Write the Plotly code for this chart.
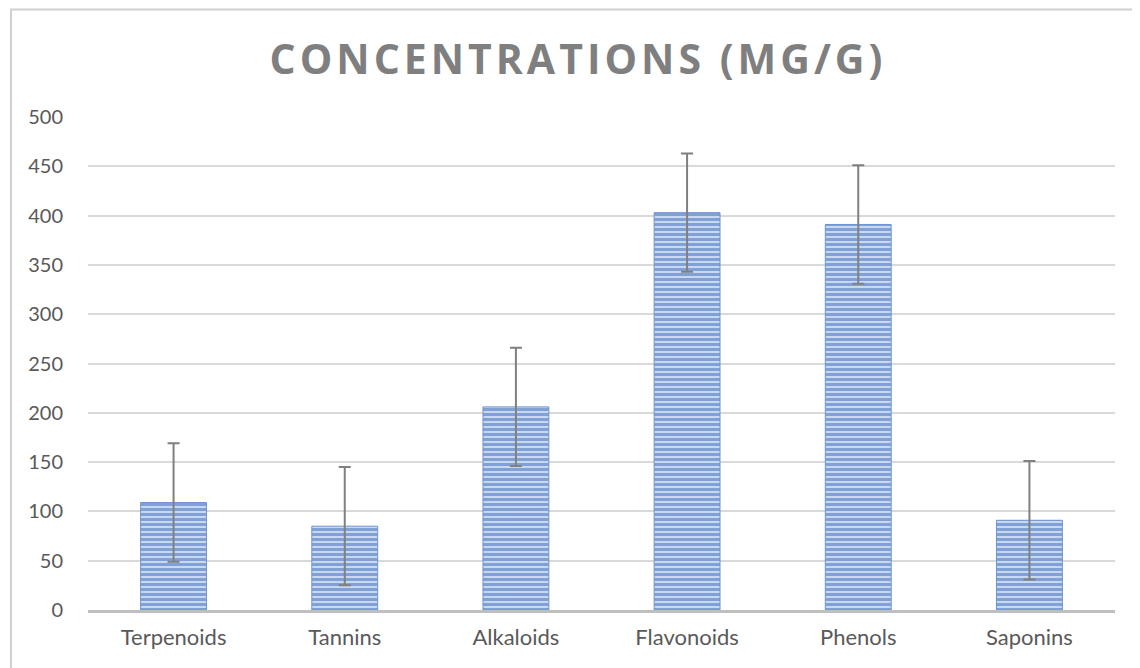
import plotly.graph_objects as go

categories = ["Terpenoids", "Tannins", "Alkaloids", "Flavonoids", "Phenols", "Saponins"]
values = [109, 85, 206, 403, 391, 91]
errors = [60, 60, 60, 60, 60, 60]
y_ticks = [0, 50, 100, 150, 200, 250, 300, 350, 400, 450, 500]

fig = go.Figure()
fig.add_trace(go.Bar(
    x=categories, y=values,
    width=0.385,
    marker=dict(
        color="#c2d3ef",
        line=dict(color="#6f94d0", width=1),
        pattern=dict(shape="-", fgcolor="#3a6abc", bgcolor="#c8d8f1", size=5, solidity=0.6),
    ),
    error_y=dict(type="data", array=errors, visible=True, color="#808080", thickness=2, width=6),
))

fig.update_layout(
    width=1140, height=668,
    margin=dict(l=80, r=33, t=109, b=66),
    paper_bgcolor="white", plot_bgcolor="white",
    showlegend=False,
    title=dict(text='<b><span style="letter-spacing:4px">CONCENTRATIONS (MG/G)</span></b>',
               x=0.5, xanchor="center", y=1 - 52 / 668, yanchor="middle",
               font=dict(family="Open Sans", size=41, color="#7f7f7f")),
    font=dict(family="Lato", color="#595959", size=20),
)
fig.update_yaxes(range=[0, 500], tickvals=y_ticks, showgrid=True, gridcolor="#d9d9d9", gridwidth=1.5,
                 zeroline=False, showline=False, ticks="", tickfont=dict(family="Lato", size=20, color="#595959"),
                 ticklabelstandoff=24)
fig.update_xaxes(showline=True, linecolor="#bfbfbf", linewidth=3, ticks="", showgrid=False,
                 tickfont=dict(family="Lato", size=22, color="#595959"), ticklabelstandoff=6)

# outer chart border
fig.add_shape(type="rect", xref="paper", yref="paper",
              x0=-77 / 1027, x1=(1160 - 88) / 1027, y0=-70 / 493, y1=1 + 107.5 / 493,
              line=dict(color="#d0d0d0", width=2), fillcolor="rgba(0,0,0,0)", layer="below")

fig.write_html("out.html")
